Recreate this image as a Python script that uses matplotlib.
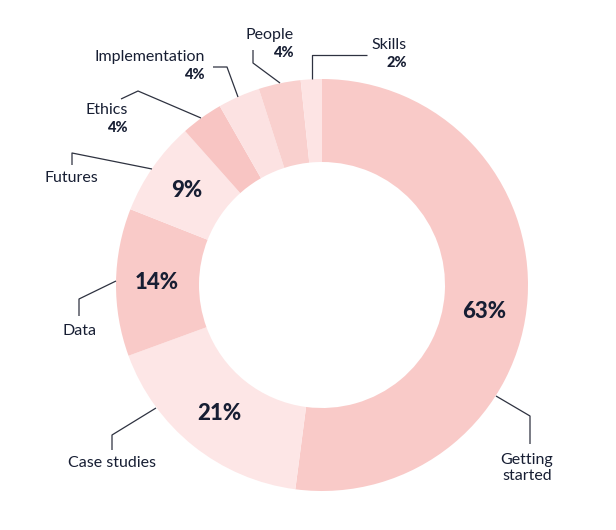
import matplotlib.pyplot as plt

#%% data
topics = ['Getting started', 'Case studies', 'Data', 'Futures',
          'Ethics', 'Implementation', 'People', 'Skills']
shares = [63, 21, 14, 9, 4, 4, 4, 2]
colours = ['#F9CAC8', '#FDE6E6', '#F9CAC8', '#FDE6E6',
           '#F8C5C3', '#FCE2E2', '#F9D0CE', '#FDE4E4']

W, H = 616, 530
navy = '#171E33'
line_col = '#2E3240'

# label layout in image pixels (y down): text position, alignment, leader points
layout = {
    'Getting started': dict(txt=(527, 468), ha='center', pct=False,
                            line=[(496, 396), (530, 416), (530, 444)]),
    'Case studies': dict(txt=(112, 463), ha='center', pct=False,
                         line=[(156, 408), (112, 435), (112, 450)]),
    'Data': dict(txt=(80, 331), ha='center', pct=False,
                 line=[(116, 281), (79, 299), (79, 316)]),
    'Futures': dict(txt=(71, 178), ha='center', pct=False,
                    line=[(152, 169), (72, 153), (72, 165)]),
    'Ethics': dict(txt=(128, 110), ha='right', pct=True,
                   line=[(201, 118), (138, 91), (121, 99)]),
    'Implementation': dict(txt=(205, 57), ha='right', pct=True,
                           line=[(238, 97), (227, 67), (213, 67)]),
    'People': dict(txt=(294, 35), ha='right', pct=True,
                   line=[(280, 83), (253, 63), (253, 50)]),
    'Skills': dict(txt=(407, 45), ha='right', pct=True,
                   line=[(312, 79), (312, 55), (367, 55)]),
}

plt.rcParams['font.family'] = ['Lato', 'DejaVu Sans']

fig = plt.figure(figsize=(W / 100, H / 100), dpi=100)
ax = fig.add_axes([0, 0, 1, 1])

total = sum(shares)
wedges, _, autotexts = ax.pie(
    shares, colors=colours, startangle=90, counterclock=False,
    center=(322, H - 285), radius=206,
    wedgeprops=dict(width=83, linewidth=0),
    autopct=lambda p: '%d%%' % round(p * total / 100), pctdistance=0.80,
    textprops=dict(color=navy, fontsize=16, fontweight='black'))

# small slices get their percentage next to the outer label instead
for name, t in zip(topics, autotexts):
    if layout[name]['pct']:
        t.set_visible(False)
# nudge the big one a little lower, as in the original
x0, y0 = autotexts[0].get_position()
autotexts[0].set_position((x0 - 2, y0 - 16))

for name, val in zip(topics, shares):
    lay = layout[name]
    xs = [p[0] for p in lay['line']]
    ys = [H - p[1] for p in lay['line']]
    ax.plot(xs, ys, color=line_col, lw=0.9, solid_capstyle='butt')
    tx, ty = lay['txt']
    ax.text(tx, H - ty, name.replace(' started', '\nstarted'),
            ha=lay['ha'], va='center', color=navy, fontsize=11.5,
            linespacing=1.1)
    if lay['pct']:
        ax.text(tx, H - ty - 18, '%d%%' % val, ha=lay['ha'], va='center',
                color=navy, fontsize=10.5, fontweight='black')

ax.set_xlim(0, W)
ax.set_ylim(0, H)
ax.set_aspect('equal')
ax.axis('off')

plt.savefig('out.png', dpi=100, facecolor='white')
